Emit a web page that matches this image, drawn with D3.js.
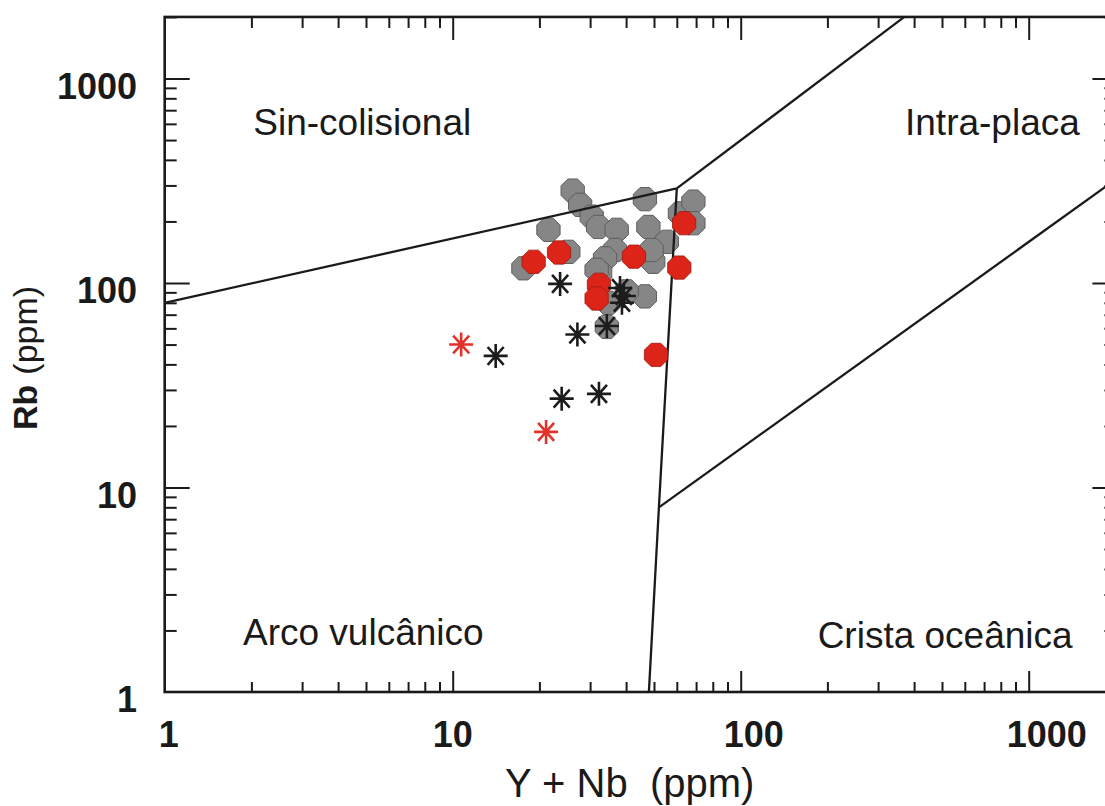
<!DOCTYPE html>
<html>
<head>
<meta charset="utf-8">
<script src="https://cdn.jsdelivr.net/npm/d3@7/dist/d3.min.js"></script>
<style>
  html, body { margin: 0; padding: 0; background: #ffffff; }
  svg { display: block; }
  text { font-family: "Liberation Sans", Arial, sans-serif; fill: #1a1a1a; }
</style>
</head>
<body>
<svg id="chart" width="1105" height="806"></svg>
<script>
// Rb vs (Y + Nb) tectonic discrimination diagram (log–log)

// --- axis ticks -----------------------------------------------------------
const majorTicks = [1, 10, 100, 1000];
const tickLabels = ["1", "10", "100", "1000"];

// --- field boundaries [Y+Nb, Rb] ------------------------------------------
const lineSynVag = [[1, 80], [60, 290]];
const lineSynWpg = [[60, 290], [370, 2000]];
const lineVagWpg = [[60, 290], [52, 8], [48, 1]];
const lineWpgOrg = [[52, 8], [2000, 320]];

// --- field names (anchor = start of baseline, in data units) ---------------
const fieldNames = ["Sin-colisional", "Intra-placa", "Arco vulcânico", "Crista oceânica"];
const fieldAt    = [[2.03, 529], [372, 529], [1.87, 1.70], [185, 1.64]];

// --- samples: Y+Nb (ppm) ----------------------------------------------------
const grayYNb = [26.1, 27.7, 30.4, 32.0, 46.5, 21.5, 37.1, 47.8, 61.5, 68.5, 68.5,
                 55.4, 49.7, 49.1, 36.6, 33.8, 25.2, 17.6, 32.5, 31.6, 46.5, 40.2, 34.7, 34.3];
// --- samples: Rb (ppm)
const grayRb  = [283, 241, 211, 188, 257, 182, 182, 188, 219, 250, 196,
                 159, 127, 145, 145, 132, 142, 118, 112, 116, 86, 91, 80, 61];

const redYNb  = [19.1, 23.4, 42.6, 63.6, 61.2, 32.2, 31.6, 50.8];
const redRb   = [127, 141, 134.5, 196, 119, 98, 84, 44.5];

const starYNb = [23.6, 38.1, 39.3, 38.7, 34.3, 27.1, 14.1, 23.9, 32.2];
const starRb  = [99, 94.5, 86.4, 80, 61.6, 56, 44, 27.2, 28.7];

const redStarYNb = [10.7, 21.1];
const redStarRb  = [50, 18.7];

// --- layout -----------------------------------------------------------------
const svg = d3.select("#chart");
const left = 164.7, bottom = 692;
const x = d3.scaleLog().domain([1, 2000]).range([left, left + 288 * Math.log10(2000)]);
const y = d3.scaleLog().domain([1, 2000]).range([bottom, bottom - 204.5 * Math.log10(2000)]);

svg.append("rect").attr("width", 1105).attr("height", 806).attr("fill", "#fff");

const x0 = x.range()[0], x1 = x.range()[1];
const y0 = y.range()[0], y1 = y.range()[1];

svg.append("clipPath").attr("id", "plot-clip")
  .append("rect").attr("x", x0).attr("y", y1).attr("width", x1 - x0).attr("height", y0 - y1);

// minor tick values 2..9 per decade, within domain
const minorTicks = [];
for (let d = 1; d <= 1000; d *= 10) {
  for (let k = 2; k <= 9; k++) if (d * k <= 2000) minorTicks.push(d * k);
}

function drawTicks(axisFn, scale, tr, vals, size) {
  const g = svg.append("g").attr("transform", tr)
    .call(axisFn(scale).tickValues(vals).tickSize(size).tickFormat(""));
  g.select(".domain").remove();
  g.selectAll(".tick line").attr("stroke", "#1a1a1a").attr("stroke-width", 2);
}

const majorX = majorTicks.filter(v => v > 1);
drawTicks(d3.axisBottom, x, `translate(0,${y0})`, majorX, -21);
drawTicks(d3.axisBottom, x, `translate(0,${y0})`, minorTicks, -10);
drawTicks(d3.axisTop, x, `translate(0,${y1})`, majorX, -23);
drawTicks(d3.axisTop, x, `translate(0,${y1})`, minorTicks, -11);
const majorY = majorTicks.filter(v => v > 1);
drawTicks(d3.axisLeft, y, `translate(${x0},0)`, majorY, -25);
drawTicks(d3.axisLeft, y, `translate(${x0},0)`, minorTicks, -12);
drawTicks(d3.axisRight, y, `translate(${x1},0)`, majorY, -23);
drawTicks(d3.axisRight, y, `translate(${x1},0)`, minorTicks, -11);

// frame
svg.append("rect")
  .attr("x", x0).attr("y", y1).attr("width", x1 - x0).attr("height", y0 - y1)
  .attr("fill", "none").attr("stroke", "#1a1a1a").attr("stroke-width", 2.6);

// tick labels
const xLabelShift = [4, 0, 13, 18];
svg.append("g").selectAll("text").data(majorTicks).join("text")
  .attr("x", (d, i) => x(d) + xLabelShift[i])
  .attr("y", 747)
  .attr("text-anchor", "middle")
  .attr("font-size", 36).attr("font-weight", "bold")
  .text((d, i) => tickLabels[i]);

svg.append("g").selectAll("text").data(majorTicks).join("text")
  .attr("x", 137)
  .attr("y", d => y(d) + 20)
  .attr("text-anchor", "end")
  .attr("font-size", 36).attr("font-weight", "bold")
  .text((d, i) => tickLabels[i]);

// axis titles
svg.append("text")
  .attr("x", 505).attr("y", 797)
  .attr("font-size", 40)
  .attr("xml:space", "preserve")
  .text("Y + Nb  (ppm)");

const yt = svg.append("text")
  .attr("transform", "translate(37,430) rotate(-90)")
  .attr("font-size", 34);
yt.append("tspan").attr("font-weight", "bold").text("Rb");
yt.append("tspan").attr("dx", 10).text("(ppm)");

// field names
svg.append("g").selectAll("text").data(fieldNames).join("text")
  .attr("x", (d, i) => x(fieldAt[i][0]))
  .attr("y", (d, i) => y(fieldAt[i][1]))
  .attr("font-size", 37)
  .text(d => d);

// samples
const octagon = r => {
  const pts = d3.range(8).map(k => {
    const a = Math.PI / 8 + k * Math.PI / 4;
    return [r * Math.cos(a), r * Math.sin(a)];
  });
  return "M" + pts.map(p => p.join(",")).join("L") + "Z";
};

const gGray = svg.append("g");
gGray.selectAll("path").data(grayYNb).join("path")
  .attr("d", octagon(12.6))
  .attr("transform", (d, i) => `translate(${x(d)},${y(grayRb[i])})`)
  .attr("fill", "#868686").attr("stroke", "#5e5e5e").attr("stroke-width", 1);

// boundary lines
const line = d3.line().x(d => x(d[0])).y(d => y(d[1]));
svg.append("g").attr("clip-path", "url(#plot-clip)")
  .selectAll("path").data([lineSynVag, lineSynWpg, lineVagWpg, lineWpgOrg]).join("path")
  .attr("d", line)
  .attr("fill", "none").attr("stroke", "#1a1a1a").attr("stroke-width", 2.3)
  .attr("stroke-linejoin", "miter");

const gRed = svg.append("g");
gRed.selectAll("path").data(redYNb).join("path")
  .attr("d", octagon(12.6))
  .attr("transform", (d, i) => `translate(${x(d)},${y(redRb[i])})`)
  .attr("fill", "#dd2418").attr("stroke", "#9a1a12").attr("stroke-width", 0.8);

const asterisk = r => {
  const angs = [0, 90, 48, 132].map(a => a * Math.PI / 180);
  return angs.map(a => {
    const dx = r * Math.cos(a), dy = r * Math.sin(a);
    return `M${-dx},${-dy}L${dx},${dy}`;
  }).join("");
};

svg.append("g").selectAll("path").data(starYNb).join("path")
  .attr("d", asterisk(12))
  .attr("transform", (d, i) => `translate(${x(d)},${y(starRb[i])})`)
  .attr("fill", "none").attr("stroke", "#1c1c1c").attr("stroke-width", 2.6);

svg.append("g").selectAll("path").data(redStarYNb).join("path")
  .attr("d", asterisk(12))
  .attr("transform", (d, i) => `translate(${x(d)},${y(redStarRb[i])})`)
  .attr("fill", "none").attr("stroke", "#e2322a").attr("stroke-width", 2.6);
</script>
</body>
</html>
